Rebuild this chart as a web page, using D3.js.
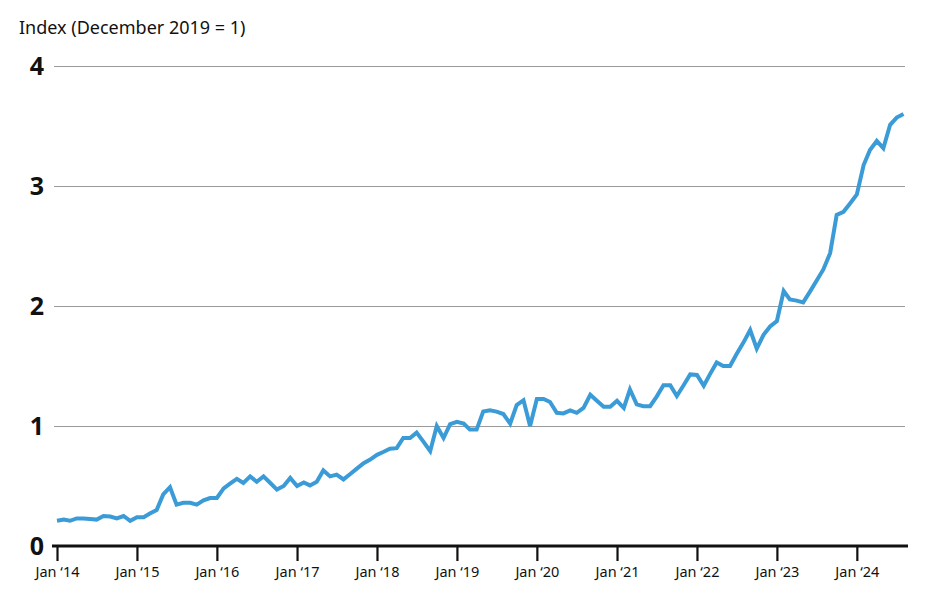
<!DOCTYPE html>
<html>
<head>
<meta charset="utf-8">
<script src="https://cdn.jsdelivr.net/npm/d3@7"></script>
<style>
  body { margin: 0; background: #fff; }
  svg text { font-family: "Noto Sans", "Open Sans", sans-serif; }
</style>
</head>
<body>
<div id="chart"></div>
<script>
// monthly index values, Jan 2014 .. Aug 2024
var startMonth = '2014-01';
var indexValues = [
  0.21, 0.22, 0.21, 0.23, 0.23, 0.225, 0.22, 0.25, 0.245, 0.23, 0.25, 0.21,
  0.24, 0.24, 0.27, 0.30, 0.43, 0.49, 0.345, 0.36, 0.36, 0.345, 0.38, 0.40,
  0.40, 0.48, 0.52, 0.56, 0.525, 0.58, 0.535, 0.58, 0.525, 0.47, 0.50, 0.567,
  0.50, 0.53, 0.505, 0.535, 0.63, 0.58, 0.595, 0.555, 0.60, 0.645, 0.69, 0.72,
  0.76, 0.785, 0.81, 0.815, 0.90, 0.90, 0.945, 0.87, 0.79, 1.00, 0.90, 1.015,
  1.035, 1.02, 0.97, 0.97, 1.12, 1.13, 1.12, 1.10, 1.02, 1.175, 1.215, 1.00,
  1.225, 1.225, 1.20, 1.11, 1.105, 1.13, 1.11, 1.15, 1.26, 1.21, 1.16, 1.16,
  1.21, 1.15, 1.305, 1.18, 1.165, 1.165, 1.245, 1.34, 1.34, 1.25, 1.34, 1.43,
  1.425, 1.335, 1.43, 1.53, 1.50, 1.50, 1.60, 1.695, 1.80, 1.645, 1.76, 1.83,
  1.875, 2.125, 2.055, 2.045, 2.03, 2.12, 2.21, 2.305, 2.44, 2.76, 2.785, 2.855,
  2.93, 3.175, 3.30, 3.375, 3.315, 3.51, 3.57, 3.60
];
var yTicks = [0, 1, 2, 3, 4];
var xTickYears = [2014, 2015, 2016, 2017, 2018, 2019, 2020, 2021, 2022, 2023, 2024];
var yTitle = 'Index (December 2019 = 1)';

const width = 925, height = 600;
const margin = {left: 57, right: 20, top: 66, bottom: 54};

var parse = d3.timeParse('%Y-%m');
var t0 = parse(startMonth);
var data = indexValues.map((v, i) => ({date: d3.timeMonth.offset(t0, i), value: v}));

var svg = d3.select('#chart').append('svg')
  .attr('width', width).attr('height', height);

var xScale = d3.scaleTime()
  .domain([t0, new Date(2025, 0, 1)])
  .range([margin.left, margin.left + 11 * 80]);

var yScale = d3.scaleLinear()
  .domain([0, 4])
  .range([height - margin.bottom, margin.top]);

// grid lines
svg.append('g')
  .attr('class', 'grid')
  .attr('transform', 'translate(54,0)')
  .call(d3.axisLeft(yScale).tickValues(yTicks.filter(d => d > 0)).tickSize(-(905 - 54)).tickFormat(''))
  .call(g => g.select('.domain').remove())
  .call(g => g.selectAll('line').attr('stroke', '#9a9a9a').attr('stroke-width', 1.2));

// y labels
svg.append('g')
  .selectAll('text')
  .data(yTicks)
  .enter().append('text')
  .attr('x', 44)
  .attr('y', d => yScale(d))
  .attr('dy', '0.36em')
  .attr('text-anchor', 'end')
  .attr('font-size', 25)
  .attr('font-weight', 'bold')
  .attr('fill', '#111')
  .text(d => d);

// y title
svg.append('text')
  .attr('x', 19).attr('y', 34)
  .attr('font-size', 18)
  .attr('fill', '#111')
  .text(yTitle);

// x axis
var xAxis = d3.axisBottom(xScale)
  .tickValues(xTickYears.map(y => new Date(y, 0, 1)))
  .tickSize(15)
  .tickPadding(6)
  .tickFormat(d => 'Jan \u2018' + d3.timeFormat('%y')(d));

svg.append('g')
  .attr('transform', `translate(0, ${yScale(0)})`)
  .call(xAxis)
  .call(g => g.select('.domain').remove())
  .call(g => g.selectAll('line').attr('stroke', '#111').attr('stroke-width', 2.2))
  .call(g => g.selectAll('text').attr('font-size', 14.5).attr('fill', '#111')
    .style('font-family', '"Noto Sans", sans-serif'));

svg.append('line')
  .attr('x1', 52).attr('x2', 908)
  .attr('y1', yScale(0)).attr('y2', yScale(0))
  .attr('stroke', '#111').attr('stroke-width', 3);

// the series
var line = d3.line()
  .x(d => xScale(d.date))
  .y(d => yScale(d.value));

svg.append('path')
  .datum(data)
  .attr('fill', 'none')
  .attr('stroke', '#3a9bd7')
  .attr('stroke-width', 4)
  .attr('stroke-linejoin', 'miter')
  .attr('d', line);
</script>
</body>
</html>
